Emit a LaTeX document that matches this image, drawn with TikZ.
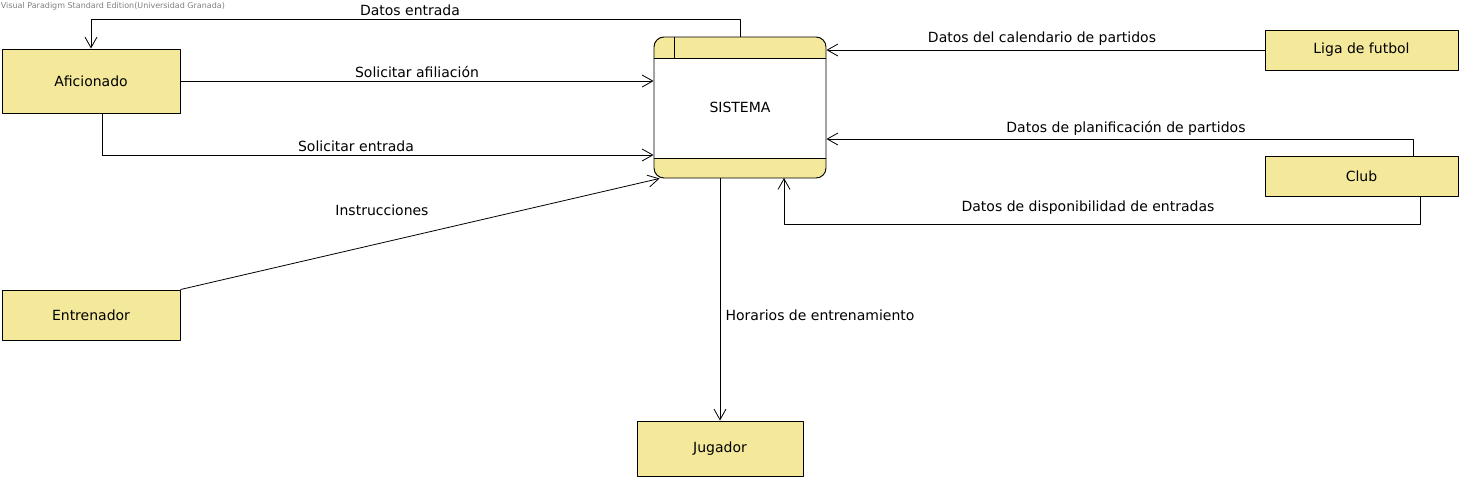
\documentclass[tikz,border=0pt]{standalone}
\usepackage{fontspec}
\setmainfont{DejaVu Sans}
\usetikzlibrary{arrows.meta}
\definecolor{entfill}{HTML}{F4E99B}
\begin{document}
\begin{tikzpicture}[x=0.75pt,y=-0.75pt, font=\fontsize{10.5}{12}\selectfont, line join=round,
	ent/.style={draw, fill=entfill, line width=0.7pt, inner sep=0pt},
	flow/.style={-{Straight Barb[length=8pt,width=9pt]}, line width=0.6pt},
	lbl/.style={inner sep=1pt}]
	\useasboundingbox (0,0) rectangle (1462,480);
	\node[anchor=north west, text=gray, font=\fontsize{6}{7}\selectfont, inner sep=0.5pt] (marca) at (0,1) {Visual Paradigm Standard Edition(Universidad Granada)};
	% entidades externas
	\node[ent, minimum width=133.5pt, minimum height=48pt] (afi) at (91,81) {Aficionado};
	\node[ent, minimum width=133.5pt, minimum height=37.5pt] (ent) at (91,315) {Entrenador};
	\node[ent, minimum width=124.5pt, minimum height=41.25pt] (jug) at (720,448.5) {Jugador};
	\node[ent, minimum width=144.75pt, minimum height=30pt] (liga) at (1361.5,50) {Liga de futbol};
	\node[ent, minimum width=144.75pt, minimum height=30pt] (club) at (1361.5,176) {Club};
	% proceso
	\fill[entfill, rounded corners=7.5pt] (654,37) rectangle (826,178);
	\fill[white] (654,58) rectangle (826,158);
	\node[draw, rounded corners=7.5pt, line width=0.7pt, minimum width=129pt, minimum height=105.75pt] (sis) at (740,107.5) {SISTEMA};
	\draw[line width=0.7pt] (sis.west |- 0,58) -- (sis.east |- 0,58) (sis.west |- 0,158) -- (sis.east |- 0,158) (674,37) -- (674,58);
	% flujos
	\draw[flow] (sis.north) -- (sis.north |- 0,19) -| (afi.north);
	\draw[flow] (afi.east) -- (afi.east -| sis.west);
	\draw[flow] ([xshift=8.25pt]afi.south) |- (sis.west |- 0,155);
	\draw[flow] (ent.north east) -- ([xshift=4.5pt]sis.south west);
	\draw[flow] (jug.north |- sis.south) -- (jug.north);
	\draw[flow] (liga.west) -- (liga.west -| sis.east);
	\draw[flow] ([xshift=38.6pt]club.north) |- (sis.east |- 0,139);
	\draw[flow] ([xshift=43.9pt]club.south) |- (784,224) -- (784,178);
	% etiquetas
	\node[lbl] (l1) at (410,10) {Datos entrada};
	\node[lbl] (l2) at (417,72) {Solicitar afiliación};
	\node[lbl] (l3) at (356,146) {Solicitar entrada};
	\node[lbl] (l4) at (382,210) {Instrucciones};
	\node[lbl, anchor=west] (l5) at (724,315) {Horarios de entrenamiento};
	\node[lbl] (l6) at (1042,39) {Datos del calendario de partidos};
	\node[lbl] (l7) at (1126,128) {Datos de planificación de partidos};
	\node[lbl] (l8) at (1088,208) {Datos de disponibilidad de entradas};
\end{tikzpicture}
\end{document}
